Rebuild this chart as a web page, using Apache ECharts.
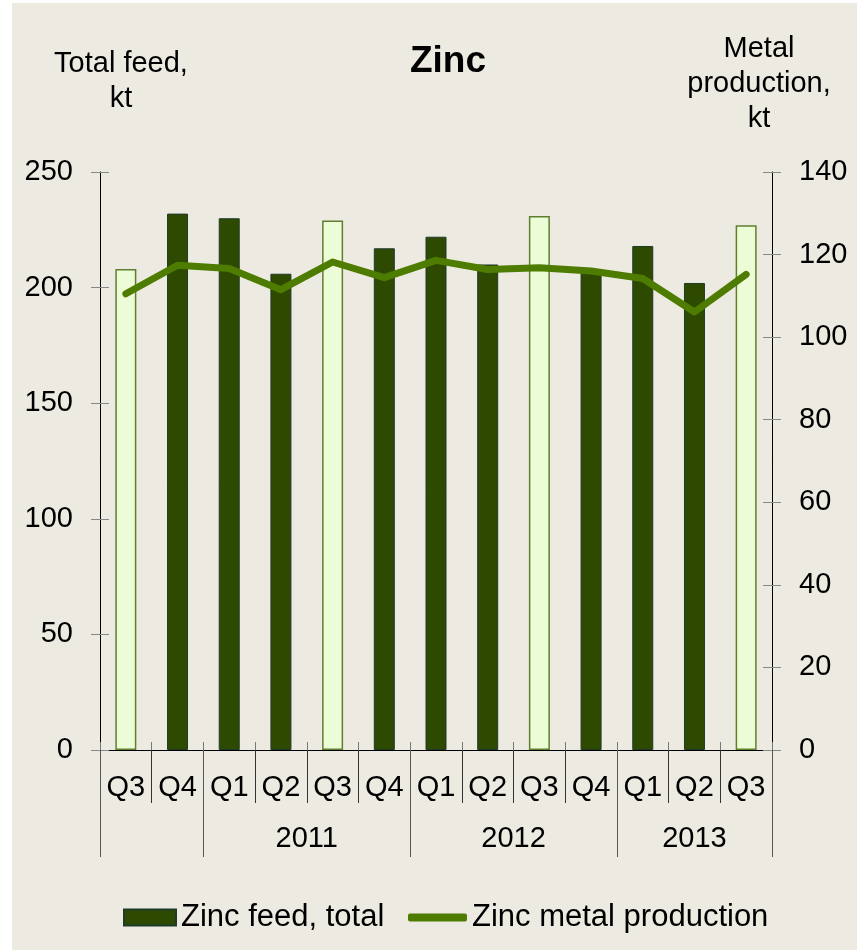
<!DOCTYPE html>
<html>
<head>
<meta charset="utf-8">
<title>Zinc</title>
<script src="https://cdn.jsdelivr.net/npm/echarts@6/dist/echarts.min.js"></script>
<style>
    html, body { margin: 0; padding: 0; background: #ffffff; }
    #chart { position: absolute; left: 12px; top: 3px; width: 845px; height: 947px; }
</style>
</head>
<body>
<div id="chart"></div>
<script>
// 数据
let quarters = ['Q3', 'Q4', 'Q1', 'Q2', 'Q3', 'Q4', 'Q1', 'Q2', 'Q3', 'Q4', 'Q1', 'Q2', 'Q3']
// 年份分组（第一组没有标签）
let years = ['', '2011', '2012', '2013']
let yearSpans = [2, 4, 4, 3]
// 锌投料总量 kt（左轴）
let zincFeed = [208, 232, 230, 206, 229, 217, 222, 210, 231, 207, 218, 202, 227]
// 锌金属产量 kt（右轴）
let zincMetal = [110.5, 117.4, 116.6, 111.5, 118.2, 114.4, 118.6, 116.4, 116.8, 116.0, 114.2, 106.1, 115.2]
let leftTicks = [0, 250, 50]
let rightTicks = [0, 140, 20]

let font = "'Liberation Sans', Arial, sans-serif"
let darkGreen = '#2e4a00'
let lineGreen = '#4d7c00'
let lightFill = '#ecfcd6'

// 年份轴：按半个季度划分，边界画刻度，中间放年份
let yearSlots = []
let boundaries = new Set([0])
let pos = 0
for (let i = 0; i <= quarters.length * 2; i++) yearSlots.push('')
years.forEach(function (y, i) {
    yearSlots[pos * 2 + yearSpans[i]] = y
    pos += yearSpans[i]
    boundaries.add(pos * 2)
})
let quarterBounds = new Set()
for (let i = 0; i <= quarters.length; i++) quarterBounds.add(i * 2)

// 柱子：Q3 用浅色
let barData = zincFeed.map(function (v, i) {
    if (quarters[i] == 'Q3') {
        return { value: v, itemStyle: { color: lightFill, borderColor: '#5f7f2f', borderWidth: 1.5 } }
    }
    return v
})

let myChart = echarts.init(document.getElementById('chart'))
let option = {
    backgroundColor: '#edebe1',
    animation: false,
    textStyle: { fontFamily: font },
    grid: { left: 88, right: 85, top: 169, bottom: 200 },
    graphic: [
        { type: 'text', x: 436, y: 40, style: { text: 'Zinc', font: 'bold 37px ' + font, fill: '#000', textAlign: 'center', textVerticalAlign: 'top' } },
        { type: 'text', x: 109, y: 43, style: { text: 'Total feed,\nkt', font: '29px ' + font, lineHeight: 35, fill: '#000', textAlign: 'center', textVerticalAlign: 'top' } },
        { type: 'text', x: 747, y: 28, style: { text: 'Metal\nproduction,\nkt', font: '29px ' + font, lineHeight: 35, fill: '#000', textAlign: 'center', textVerticalAlign: 'top' } }
    ],
    legend: [
        {
            data: [{ name: 'Zinc feed, total', icon: 'rect' }],
            left: 111, top: 899, padding: 0,
            itemWidth: 52, itemHeight: 16,
            textStyle: { fontSize: 31, color: '#000', fontFamily: font }
        },
        {
            data: [{ name: 'Zinc metal production', icon: 'roundRect' }],
            left: 396, top: 899, padding: 0,
            itemWidth: 59, itemHeight: 8,
            textStyle: { fontSize: 31, color: '#000', fontFamily: font }
        }
    ],
    xAxis: [
        {
            type: 'category',
            data: quarters,
            position: 'bottom',
            axisLine: { lineStyle: { color: '#000', width: 1 } },
            axisTick: { show: true, interval: 0, length: 53, lineStyle: { color: '#333' } },
            axisLabel: { interval: 0, margin: 23, fontSize: 29, color: '#000', fontFamily: font }
        },
        {
            type: 'category',
            data: yearSlots,
            boundaryGap: false,
            position: 'bottom',
            axisLine: { show: false },
            axisTick: {
                show: true, length: 107, lineStyle: { color: '#555' },
                interval: function (index) { return boundaries.has(index) }
            },
            axisLabel: { interval: 0, margin: 74, fontSize: 29, color: '#000', fontFamily: font }
        },
        {
            type: 'category',
            data: yearSlots,
            boundaryGap: false,
            position: 'bottom',
            axisLine: { show: false },
            axisTick: {
                show: true, inside: true, length: 8, lineStyle: { color: '#777' },
                interval: function (index) { return quarterBounds.has(index) }
            },
            axisLabel: { show: false }
        }
    ],
    yAxis: [
        {
            type: 'value', position: 'left',
            min: leftTicks[0], max: leftTicks[1], interval: leftTicks[2],
            splitLine: { show: false },
            axisLine: { show: true, lineStyle: { color: '#000' } },
            axisTick: { show: true, length: 9, lineStyle: { color: '#888' } },
            axisLabel: { margin: 27, fontSize: 29, color: '#000', fontFamily: font }
        },
        {
            type: 'value', position: 'right',
            min: rightTicks[0], max: rightTicks[1], interval: rightTicks[2],
            splitLine: { show: false },
            axisLine: { show: true, lineStyle: { color: '#000' } },
            axisTick: { show: true, length: 9, lineStyle: { color: '#888' } },
            axisLabel: { margin: 27, fontSize: 29, color: '#000', fontFamily: font }
        },
        {
            type: 'value', position: 'left',
            min: leftTicks[0], max: leftTicks[1], interval: leftTicks[2],
            splitLine: { show: false }, axisLine: { show: false },
            axisTick: { show: true, inside: true, length: 9, lineStyle: { color: '#888' } },
            axisLabel: { show: false }
        },
        {
            type: 'value', position: 'right',
            min: rightTicks[0], max: rightTicks[1], interval: rightTicks[2],
            splitLine: { show: false }, axisLine: { show: false },
            axisTick: { show: true, inside: true, length: 9, lineStyle: { color: '#888' } },
            axisLabel: { show: false }
        }
    ],
    series: [
        {
            name: 'Zinc feed, total',
            type: 'bar',
            xAxisIndex: 0, yAxisIndex: 0,
            barWidth: 21,
            data: barData,
            itemStyle: { color: darkGreen, borderColor: '#1f3a2a', borderWidth: 1 }
        },
        {
            name: 'Zinc metal production',
            type: 'line',
            xAxisIndex: 0, yAxisIndex: 1,
            data: zincMetal,
            showSymbol: false,
            symbol: 'none',
            itemStyle: { color: lineGreen },
            lineStyle: { color: lineGreen, width: 7, cap: 'round', join: 'round' }
        }
    ]
}
myChart.setOption(option)
</script>
</body>
</html>
